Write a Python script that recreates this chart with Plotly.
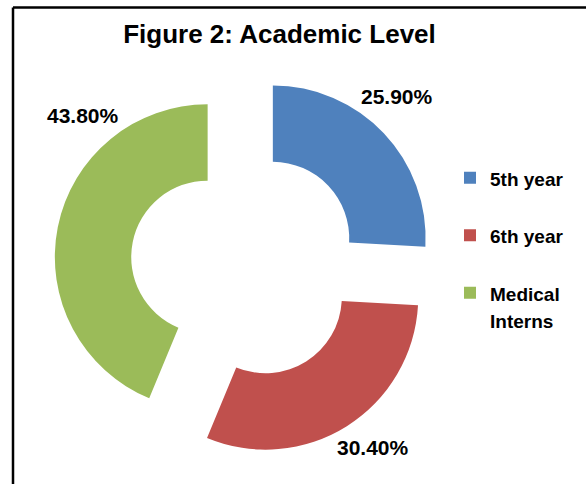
import plotly.graph_objects as go

# Data
categories = ["5th year", "6th year", "Medical Interns"]
values = [25.9, 30.4, 43.8]
colors = ["#4F81BD", "#C0504D", "#9BBB59"]
value_labels = [f"{v:.2f}%" for v in values]

FONT = "Liberation Sans, Arial, Helvetica, sans-serif"

legend_names = [
    f"<span style='font-size:19px'><b>{c.replace(' ', '<br>') if c == 'Medical Interns' else c}</b></span>"
    + ("" if c == "Medical Interns" else "<br>\u00a0")
    for c in categories
]

W, H = 586, 484

fig = go.Figure()
fig.add_trace(go.Pie(
    labels=legend_names,
    values=values,
    marker=dict(colors=colors, line=dict(width=0)),
    hole=0.5,
    pull=[0.25, 0.25, 0.25],
    sort=False,
    direction="clockwise",
    rotation=0,
    textinfo="none",
    hoverinfo="skip",
    domain=dict(x=[54.1 / W, 436.1 / W], y=[1 - 455.5 / H, 1 - 73.5 / H]),
))

# value labels
label_pos = [(396.5, 97), (373, 447), (83, 116)]
annotations = []
for txt, (px, py) in zip(value_labels, label_pos):
    annotations.append(dict(
        text=f"<b>{txt}</b>", x=px / W, y=1 - py / H, xref="paper", yref="paper",
        xanchor="center", yanchor="middle", showarrow=False,
        font=dict(family=FONT, size=21, color="black"),
    ))

fig.update_layout(
    width=W, height=H,
    margin=dict(l=0, r=0, t=0, b=0),
    paper_bgcolor="white",
    plot_bgcolor="white",
    title=dict(
        text="<b>Figure 2: Academic Level</b>",
        x=279.5 / W, xanchor="center", xref="paper",
        y=1 - 34 / H, yanchor="middle", yref="paper",
        font=dict(family=FONT, size=26, color="black"),
    ),
    showlegend=True,
    legend=dict(
        x=450 / W, xanchor="left",
        y=1 - 157.5 / H, yanchor="top",
        valign="top",
        font=dict(family=FONT, size=21, color="black", weight="bold"),
        bgcolor="rgba(0,0,0,0)",
        itemclick=False, itemdoubleclick=False,
    ),
    annotations=annotations,
    shapes=[
        dict(type="line", xref="paper", yref="paper",
             x0=13 / W, x1=1.05, y0=1 - 7.5 / H, y1=1 - 7.5 / H,
             line=dict(color="black", width=2.5)),
        dict(type="line", xref="paper", yref="paper",
             x0=13 / W, x1=13 / W, y0=1 - 7.5 / H, y1=-0.05,
             line=dict(color="black", width=2.5)),
    ],
)

fig.write_html("out.html")
